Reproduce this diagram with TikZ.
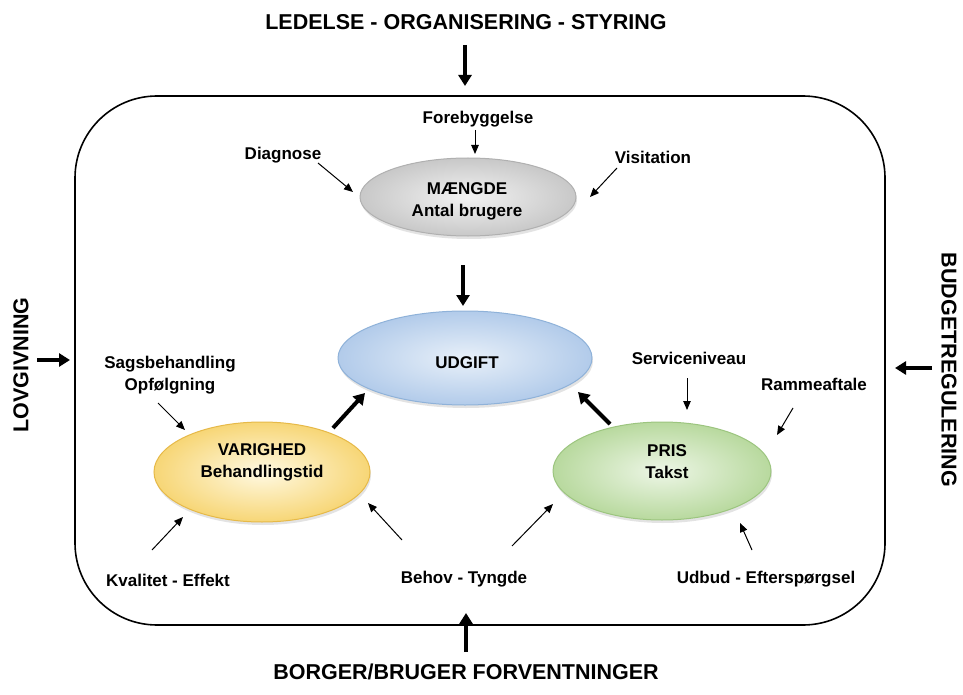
\documentclass[tikz,border=0pt]{standalone}
\usepackage{fontspec}
\setmainfont{Liberation Sans}
\usetikzlibrary{shapes.geometric,arrows.meta,shadows}
\definecolor{gin}{HTML}{F2F2F2}\definecolor{gout}{HTML}{C8C8C8}\definecolor{gbd}{HTML}{B0B0B0}
\definecolor{bin}{HTML}{E8F0F9}\definecolor{bout}{HTML}{B2CBEA}\definecolor{bbd}{HTML}{8FB2D9}
\definecolor{yin}{HTML}{FFF9E2}\definecolor{yout}{HTML}{F7D676}\definecolor{ybd}{HTML}{E6B948}
\definecolor{nin}{HTML}{EDF6E6}\definecolor{nout}{HTML}{B8D99E}\definecolor{nbd}{HTML}{9CC57F}
\begin{document}
\begin{tikzpicture}[x=1pt,y=-1pt,
 lbl/.style={font=\fontsize{17}{22}\selectfont\bfseries, align=center, inner sep=0pt},
 biglbl/.style={font=\fontsize{21.5}{24}\selectfont\bfseries, inner sep=0pt},
 thinarrow/.style={line width=1pt, -{Triangle[length=9pt,width=7.5pt]}},
 thickarrow/.style={line width=4pt, -{Triangle[length=11pt,width=13pt]}},
 ell/.style={ellipse, inner sep=0pt, line width=1pt, shading=radial,
   drop shadow={shadow xshift=1pt, shadow yshift=-3pt, opacity=0.22}},
]
\useasboundingbox (0,0) rectangle (963,695);
\fill[white] (0,0) rectangle (963,695);

% frame
\draw[line width=1.6pt, rounded corners=82pt] (75,96) rectangle (885,625);

% ellipses
\node[ell, minimum width=216pt, minimum height=78pt, draw=gbd, inner color=gin, outer color=gout] (m) at (468,197) {};
\node[ell, minimum width=254pt, minimum height=94pt, draw=bbd, inner color=bin, outer color=bout] (u) at (465,358) {};
\node[ell, minimum width=216pt, minimum height=100pt, draw=ybd, inner color=yin, outer color=yout] (v) at (262,472) {};
\node[ell, minimum width=218pt, minimum height=98pt, draw=nbd, inner color=nin, outer color=nout] (p) at (662,471) {};

% ellipse texts
\node[lbl] (mt) at (467,201) {MÆNGDE\\Antal brugere};
\node[lbl] (ut) at (467,363) {UDGIFT};
\node[lbl] (vt) at (262,462) {VARIGHED\\Behandlingstid};
\node[lbl] (pt) at (667,462) {PRIS\\Takst};

% labels
\node[lbl] (fb) at (478,119) {Forebyggelse};
\node[lbl] (dg) at (283,155) {Diagnose};
\node[lbl] (vs) at (653,157) {Visitation};
\node[lbl] (sb) at (170,375) {Sagsbehandling\\Opfølgning};
\node[lbl] (sn) at (689,358) {Serviceniveau};
\node[lbl] (ra) at (814,384) {Rammeaftale};
\node[lbl] (ke) at (168,580) {Kvalitet - Effekt};
\node[lbl] (bt) at (464,579) {Behov - Tyngde};
\node[lbl] (ue) at (766,579) {Udbud - Efterspørgsel};

% outer labels
\node[biglbl] (top) at (466,22) {LEDELSE - ORGANISERING - STYRING};
\node[biglbl] (bot) at (466,672) {BORGER/BRUGER FORVENTNINGER};
\node[biglbl, rotate=90] (lov) at (21,365) {LOVGIVNING};
\node[biglbl, rotate=-90] (bud) at (949,370) {BUDGETREGULERING};

% coordinates for connector ends
\coordinate (topA) at (465,45);  \coordinate (topB) at (465,86);
\coordinate (botA) at (466,652); \coordinate (botB) at (466,613);
\coordinate (lovA) at (37,360);  \coordinate (lovB) at (70,360);
\coordinate (budA) at (932,368); \coordinate (budB) at (895,368);

\coordinate (fbA) at (475,130); \coordinate (fbB) at (475,154);
\coordinate (dgA) at (318,163); \coordinate (dgB) at (353,192);
\coordinate (vsA) at (617,168); \coordinate (vsB) at (590,197);
\coordinate (sbA) at (158,403); \coordinate (sbB) at (185,430);
\coordinate (snA) at (687,378); \coordinate (snB) at (687,410);
\coordinate (raA) at (793,408); \coordinate (raB) at (777,435);
\coordinate (keA) at (152,550); \coordinate (keB) at (183,517);
\coordinate (btA) at (402,540); \coordinate (btB) at (368,503);
\coordinate (btC) at (512,546); \coordinate (btD) at (553,504);
\coordinate (ueA) at (752,550); \coordinate (ueB) at (740,523);

\coordinate (muA) at (463,265); \coordinate (muB) at (463,306);
\coordinate (vuA) at (333,428); \coordinate (vuB) at (365,393);
\coordinate (puA) at (610,424); \coordinate (puB) at (578,392);

% outer arrows
\draw[thickarrow] (topA) -- (topB);
\draw[thickarrow] (botA) -- (botB);
\draw[thickarrow] (lovA) -- (lovB);
\draw[thickarrow] (budA) -- (budB);

% thin arrows
\draw[thinarrow] (fbA) -- (fbB);
\draw[thinarrow] (dgA) -- (dgB);
\draw[thinarrow] (vsA) -- (vsB);
\draw[thinarrow] (sbA) -- (sbB);
\draw[thinarrow] (snA) -- (snB);
\draw[thinarrow] (raA) -- (raB);
\draw[thinarrow] (keA) -- (keB);
\draw[thinarrow] (btA) -- (btB);
\draw[thinarrow] (btC) -- (btD);
\draw[thinarrow] (ueA) -- (ueB);

% thick arrows
\draw[thickarrow] (muA) -- (muB);
\draw[thickarrow] (vuA) -- (vuB);
\draw[thickarrow] (puA) -- (puB);
\end{tikzpicture}
\end{document}
